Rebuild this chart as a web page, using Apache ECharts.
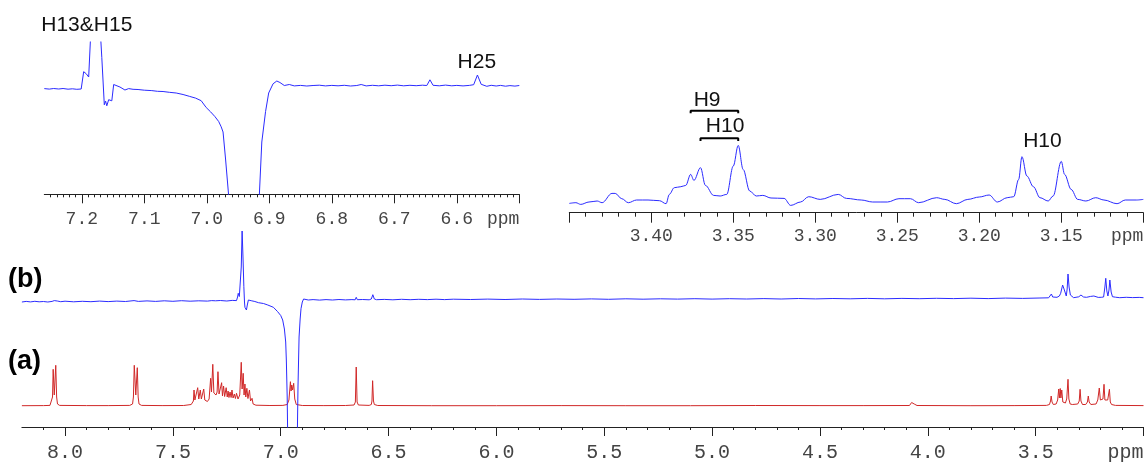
<!DOCTYPE html>
<html><head><meta charset="utf-8">
<script src="https://cdn.jsdelivr.net/npm/echarts@6/dist/echarts.min.js"></script>
<style>html,body{margin:0;padding:0;background:#fff}#c{width:1148px;height:463px}</style>
</head><body><div id="c"></div>
<script>
// ---------- tick values (ppm) ----------
const mainTickValues = [3.0,3.5,4.0,4.5,5.0,5.5,6.0,6.5,7.0,7.5,8.0];
const mainLabelValues = [3.5,4.0,4.5,5.0,5.5,6.0,6.5,7.0,7.5,8.0];
const inset1TickValues = [6.5,6.6,6.7,6.8,6.9,7.0,7.1,7.2];
const inset1LabelValues = [6.6,6.7,6.8,6.9,7.0,7.1,7.2];
const inset2TickValues = [3.10,3.15,3.20,3.25,3.30,3.35,3.40,3.45];
const inset2LabelValues = [3.15,3.20,3.25,3.30,3.35,3.40];

// ---------- spectrum (a), red: [ppm, intensity] ----------
const spectrumA = [
[8.200,21.3],[8.100,21.4],[8.070,21.6],[8.062,23],[8.058,30],[8.055,57.7],[8.050,32],[8.047,34],[8.043,61.7],[8.039,30],[8.035,23],[8.025,21.6],
[7.900,21.4],[7.800,21.4],[7.700,21.6],[7.687,23],[7.683,30],[7.679,61.7],[7.672,32],[7.669,33],[7.665,59.3],[7.661,30],[7.657,23],[7.645,21.6],
[7.550,21.4],[7.450,21.5],[7.415,22.5],[7.405,26],[7.402,37],[7.398,27],[7.390,28],[7.385,39.3],[7.380,28],[7.376,28],[7.373,37],[7.368,28],
[7.362,28],[7.357,38],[7.352,27],[7.340,25.5],[7.332,28],[7.325,48.7],[7.321,35],[7.315,62.7],[7.310,34],[7.300,32],[7.295,35],[7.291,55.3],
[7.286,33],[7.280,31],[7.274,44.3],[7.270,31],[7.265,41],[7.260,30.5],[7.253,39.3],[7.248,30],[7.244,36],[7.240,29.5],[7.235,35],[7.230,29.5],
[7.226,37],[7.221,29],[7.215,33],[7.210,28.5],[7.205,33.7],[7.198,28],[7.190,32],[7.183,64.7],[7.179,38],[7.174,53.7],[7.170,32],[7.166,43],
[7.162,30],[7.157,38.7],[7.152,28.5],[7.145,37],[7.140,26],[7.133,28.7],[7.128,23],[7.115,21.8],[7.050,21.5],[6.990,21.6],[6.970,22.5],
[6.962,27],[6.955,45.3],[6.952,36],[6.949,42],[6.945,37],[6.940,43.7],[6.935,28],[6.928,22.5],[6.900,21.5],[6.800,21.4],[6.700,21.5],
[6.660,22],[6.654,25],[6.650,60],[6.646,25],[6.640,22],[6.590,21.6],[6.580,22.5],[6.577,26],[6.574,46.3],[6.570,26],[6.566,22.5],[6.550,21.5],
[6.300,21.3],[6.000,21.3],[5.700,21.4],[5.400,21.3],[5.100,21.3],[4.800,21.5],[4.500,21.4],[4.300,21.4],[4.085,21.5],[4.078,22.5],[4.075,24.5],
[4.071,23],[4.067,25.3],[4.063,23],[4.060,24.5],[4.056,22.5],[4.050,21.5],[3.800,21.3],[3.600,21.4],[3.450,21.6],[3.436,22.5],[3.431,26],
[3.428,31],[3.424,25],[3.418,22.5],[3.405,23],[3.398,27],[3.393,38],[3.390,29],[3.386,38.5],[3.383,29],[3.379,37],[3.374,25],[3.362,24],
[3.356,28],[3.350,47.7],[3.346,28],[3.340,23],[3.330,22.5],[3.305,23],[3.298,26],[3.294,37.7],[3.290,26],[3.283,22.5],[3.268,22.5],[3.260,25],
[3.256,31],[3.252,25],[3.244,22.5],[3.220,23],[3.212,27],[3.205,39],[3.200,27],[3.195,27],[3.188,28],[3.183,42.7],[3.179,27],[3.172,26],
[3.166,27],[3.158,37.7],[3.154,25],[3.148,22.5],[3.130,21.6],[3.000,21.4]
];

// ---------- spectrum (b), blue: [ppm, intensity] ----------
const spectrumB = [
[8.200,125.0],[8.180,125.6],[8.160,125.1],[8.140,125.7],[8.120,125.2],[8.100,125.5],[8.080,125.0],[8.060,125.6],[8.050,126.4],[8.043,127.0],
[8.036,126.0],[8.020,125.3],[8.000,125.8],[7.960,125.2],[7.920,125.7],[7.880,125.3],[7.840,125.9],[7.800,125.4],[7.760,125.9],[7.720,125.5],
[7.680,126.4],[7.660,125.6],[7.620,126.1],[7.580,125.6],[7.540,126.2],[7.500,125.7],[7.460,126.3],[7.420,125.8],[7.380,126.2],[7.340,125.9],
[7.320,126.4],[7.311,127.7],[7.302,126.2],[7.280,126.5],[7.250,126.0],[7.225,126.6],[7.205,126.4],[7.200,130.0],[7.197,133.7],[7.192,130.5],
[7.188,129.7],[7.183,160.0],[7.179,196.0],[7.175,170.0],[7.171,140.3],[7.168,125.0],[7.166,119.7],[7.162,118.0],[7.159,117.0],[7.155,122.0],
[7.150,127.0],[7.143,126.0],[7.137,126.3],[7.120,125.5],[7.103,124.3],[7.080,123.5],[7.060,122.0],[7.034,119.7],[7.015,115.5],[7.000,111.5],
[6.991,107.0],[6.983,98.0],[6.977,85.0],[6.974,67.0],[6.970,30.0],[6.966,-40],[6.925,-40],[6.920,40.0],[6.915,90.0],[6.910,108.0],
[6.906,118.3],[6.900,125.0],[6.894,128.0],[6.885,127.2],[6.872,127.0],[6.850,127.4],[6.820,126.9],[6.790,127.4],[6.760,127.0],[6.730,127.5],
[6.700,127.1],[6.670,127.4],[6.655,127.2],[6.650,129.7],[6.645,127.3],[6.620,127.5],[6.590,127.2],[6.580,128.0],[6.573,132.3],[6.566,128.0],
[6.556,127.3],[6.520,127.6],[6.480,127.2],[6.440,127.7],[6.400,127.3],[6.360,127.7],[6.320,127.4],[6.280,127.8],[6.240,127.4],[6.200,127.8],
[6.120,127.5],[6.040,127.9],[5.960,127.5],[5.880,128.0],[5.800,127.6],[5.720,128.0],[5.640,127.7],[5.560,128.1],[5.480,127.7],[5.400,128.2],
[5.320,127.8],[5.240,128.2],[5.160,127.9],[5.080,128.3],[5.000,127.9],[4.920,128.3],[4.840,128.0],[4.760,128.4],[4.680,128.0],[4.600,128.5],
[4.520,128.1],[4.440,128.5],[4.360,128.2],[4.280,128.6],[4.200,128.2],[4.120,128.6],[4.040,128.3],[3.960,128.7],[3.880,128.4],[3.800,128.8],
[3.720,128.4],[3.640,128.9],[3.560,128.6],[3.480,129.0],[3.440,129.2],[3.431,130.5],[3.427,133.0],[3.421,130.0],[3.415,129.3],[3.401,129.7],
[3.390,131.0],[3.384,133.7],[3.375,142.0],[3.370,139.0],[3.367,138.7],[3.358,131.0],[3.354,138.0],[3.350,153.0],[3.345,140.0],[3.339,132.0],
[3.324,129.3],[3.300,130.2],[3.290,132.0],[3.278,130.0],[3.264,129.7],[3.245,130.6],[3.230,131.0],[3.210,129.6],[3.196,129.7],[3.185,130.0],
[3.179,140.0],[3.175,148.7],[3.170,136.0],[3.165,131.0],[3.160,137.0],[3.156,147.0],[3.150,135.0],[3.144,130.3],[3.130,129.8],[3.110,129.3],
[3.080,129.7],[3.050,129.4],[3.020,129.6],[3.000,129.3]
];

// ---------- inset 1 (7.26 - 6.50 ppm), spectrum (b) ----------
const inset1B = [
[7.260,105.7],[7.252,105.2],[7.245,105.8],[7.237,105.3],[7.230,105.8],[7.222,105.1],[7.215,105.5],[7.208,105.0],[7.201,105.3],[7.197,122.6],
[7.193,120.6],[7.189,117.3],[7.185,170],[7.178,175],[7.171,170],[7.168,136.8],[7.166,113.3],[7.164,89.5],[7.162,93.3],[7.160,88.5],
[7.159,86.8],[7.157,94.6],[7.154,92.9],[7.152,93.5],[7.149,109.8],[7.146,110.5],[7.139,107.3],[7.131,104.3],[7.125,105.7],[7.118,105.0],
[7.110,104.8],[7.100,104.1],[7.088,103.7],[7.079,103.0],[7.070,102.8],[7.060,102.0],[7.049,101.3],[7.038,99.8],[7.028,98.0],[7.018,96.2],
[7.009,93.6],[7.001,86.8],[6.994,82.5],[6.987,77.7],[6.981,72.8],[6.977,67.5],[6.974,62.3],[6.970,35.3],[6.965,-1.7],[6.940,-40],
[6.916,-1.7],[6.912,52.3],[6.906,82.7],[6.901,101.3],[6.894,110.5],[6.888,113.3],[6.883,111.8],[6.876,108.8],[6.868,109.8],[6.860,108.4],
[6.850,108.9],[6.840,108.3],[6.830,108.8],[6.820,109.1],[6.810,108.4],[6.800,108.9],[6.790,108.5],[6.780,109.0],[6.770,108.3],[6.760,108.8],
[6.753,109.8],[6.745,108.4],[6.735,109.0],[6.725,108.5],[6.715,109.1],[6.705,108.6],[6.695,109.2],[6.685,108.5],[6.675,109.0],[6.665,108.6],
[6.655,109.1],[6.648,108.8],[6.643,114.5],[6.638,109.0],[6.628,108.5],[6.618,109.2],[6.608,108.5],[6.600,108.9],[6.597,110.2],[6.590,108.4],
[6.580,108.9],[6.573,109.6],[6.567,119.3],[6.561,110.0],[6.552,108.0],[6.545,109.0],[6.537,108.3],[6.530,108.9],[6.522,108.1],[6.515,108.7],
[6.507,108.2],[6.500,108.8]
];

// ---------- inset 2 (3.45 - 3.10 ppm), spectrum (b) ----------
const inset2B = [
[3.450,9.3],[3.446,10],[3.443,8.3],[3.438,10.7],[3.433,11.7],[3.430,10],[3.424,19.3],[3.422,19.3],[3.418,14],[3.414,10],[3.409,12.7],
[3.402,12.7],[3.395,12],[3.391,9],[3.389,18.3],[3.386,25],[3.382,26],[3.379,27.3],[3.376,38.3],[3.374,32.3],[3.370,45],[3.367,27.3],
[3.362,17.3],[3.358,16.7],[3.354,18.3],[3.350,46.7],[3.347,67.3],[3.344,43.3],[3.340,21.7],[3.336,16.7],[3.332,17.3],[3.327,14.7],
[3.319,14.3],[3.315,7.3],[3.309,10.7],[3.304,16],[3.297,13.3],[3.286,18.3],[3.281,14.3],[3.272,12.7],[3.265,10.7],[3.256,10.7],[3.249,14],
[3.242,14],[3.237,10],[3.226,15],[3.221,13.3],[3.214,9],[3.207,13.3],[3.200,15.7],[3.194,17.7],[3.189,10.7],[3.183,15],[3.179,16],
[3.176,33.3],[3.174,56],[3.171,36.7],[3.167,26],[3.163,15],[3.158,11.7],[3.155,16.7],[3.150,51.3],[3.148,38.3],[3.144,23.3],[3.140,13.3],
[3.135,11.7],[3.129,15],[3.124,12.7],[3.116,9],[3.111,12.7],[3.104,12.7],[3.100,13.3]
];

// ---------- annotations ----------
const inset1Labels = [{text:'H13&H15', ppm:7.192, at:169.3}, {text:'H25', ppm:6.568, at:132.3}];
const inset2Labels = [{text:'H9', ppm:3.366, at:112}, {text:'H10', ppm:3.355, at:86}, {text:'H10', ppm:3.1615, at:71}];
const inset2Brackets = [{from:3.376, to:3.347, at:102}, {from:3.370, to:3.347, at:74.4}];
const traceNames = ['(b)', '(a)'];

const BLUE = '#2b2bff', RED = '#d02828', AX = '#222', LAB = '#444';
const MONO = '"Liberation Mono", "Courier New", monospace';
const SANS = '"Liberation Sans", Arial, sans-serif';

function xAxisCfg(grid, min, max, interval, split, tickVals, labelVals, majorLen, minorLen, fontSize, margin, digits) {
  return {
    type: 'value', gridIndex: grid, min: min, max: max, interval: interval, inverse: true,
    axisLine: {show: true, onZero: false, lineStyle: {color: AX, width: 1}},
    axisTick: {show: true, customValues: tickVals, length: majorLen, lineStyle: {color: AX, width: 1}},
    minorTick: {show: true, splitNumber: split, length: minorLen, lineStyle: {color: AX, width: 1}},
    axisLabel: {show: true, customValues: labelVals, margin: margin, fontFamily: MONO, fontSize: fontSize, color: LAB,
      formatter: function (v) { return Number(v).toFixed(digits); }},
    splitLine: {show: false}, minorSplitLine: {show: false}
  };
}
function yAxisCfg(grid, max) {
  return {type: 'value', gridIndex: grid, min: 0, max: max, show: false, splitLine: {show: false}};
}
function lineSeries(xi, data, color, width, clip, smooth) {
  return {type: 'line', xAxisIndex: xi, yAxisIndex: xi, data: data, symbol: 'none', showSymbol: false,
    smooth: smooth || false, smoothMonotone: smooth ? 'x' : undefined,
    lineStyle: {color: color, width: width}, clip: clip, silent: true, animation: false, z: 2};
}

const series = [
  lineSeries(0, spectrumA, RED, 1, true),
  lineSeries(0, spectrumB, BLUE, 1, true),
  lineSeries(1, inset1B, BLUE, 1, true),
  lineSeries(2, inset2B, BLUE, 1, true, 0.35)
];
inset2Brackets.forEach(function (b) {
  series.push(lineSeries(2, [[b.from, b.at - 2.6], [b.from, b.at], [b.to, b.at], [b.to, b.at - 2.6]], '#000', 2, false));
});

const option = {
  animation: false,
  backgroundColor: '#fff',
  grid: [
    {left: 21.9, top: 227, width: 1121.6, height: 200},
    {left: 44.3, top: 42, width: 475, height: 152.3},
    {left: 569.3, top: 112.7, width: 574, height: 100}
  ],
  xAxis: [
    xAxisCfg(0, 3.0, 8.2, 0.5, 5, mainTickValues, mainLabelValues, 9, 3, 20, 16, 1),
    xAxisCfg(1, 6.5, 7.26, 0.1, 10, inset1TickValues, inset1LabelValues, 9, 3, 18, 16, 1),
    xAxisCfg(2, 3.10, 3.45, 0.05, 5, inset2TickValues, inset2LabelValues, 10, 4, 18, 15, 2)
  ],
  yAxis: [yAxisCfg(0, 200), yAxisCfg(1, 152.3), yAxisCfg(2, 100)],
  series: series
};

const chart = echarts.init(document.getElementById('c'), null, {renderer: 'canvas'});
chart.setOption(option);

// text elements positioned through the axes' own scales
const graphics = [];
function addText(text, p, size, weight, align, vAlign, color, family) {
  graphics.push({type: 'text', x: p[0], y: p[1], silent: true, z: 10,
    style: {text: text, fontSize: size, fontWeight: weight, fontFamily: family, fill: color, align: align, verticalAlign: vAlign}});
}
inset1Labels.forEach(function (a) {
  addText(a.text, chart.convertToPixel({gridIndex: 1}, [a.ppm, a.at]), 21, 'normal', 'center', 'middle', '#111', SANS);
});
inset2Labels.forEach(function (a) {
  addText(a.text, chart.convertToPixel({gridIndex: 2}, [a.ppm, a.at]), 21, 'normal', 'center', 'middle', '#111', SANS);
});
// "ppm" unit at the right end of each axis, in line with the tick labels
const pm = chart.convertToPixel({gridIndex: 0}, [3.0, 0]);
addText('ppm', [pm[0], pm[1] + 16], 20, 'normal', 'right', 'top', LAB, MONO);
const p1 = chart.convertToPixel({gridIndex: 1}, [6.5, 0]);
addText('ppm', [p1[0], p1[1] + 16], 18, 'normal', 'right', 'top', LAB, MONO);
const p2 = chart.convertToPixel({gridIndex: 2}, [3.10, 0]);
addText('ppm', [p2[0], p2[1] + 15], 18, 'normal', 'right', 'top', LAB, MONO);
// trace names
const pb = chart.convertToPixel({gridIndex: 0}, [8.2, 125]);
const pa = chart.convertToPixel({gridIndex: 0}, [8.2, 21.3]);
addText(traceNames[0], [8, pb[1] - 22], 27, 'bold', 'left', 'middle', '#000', SANS);
addText(traceNames[1], [8, pa[1] - 44], 27, 'bold', 'left', 'middle', '#000', SANS);
chart.setOption({graphic: graphics});
</script>
</body></html>
